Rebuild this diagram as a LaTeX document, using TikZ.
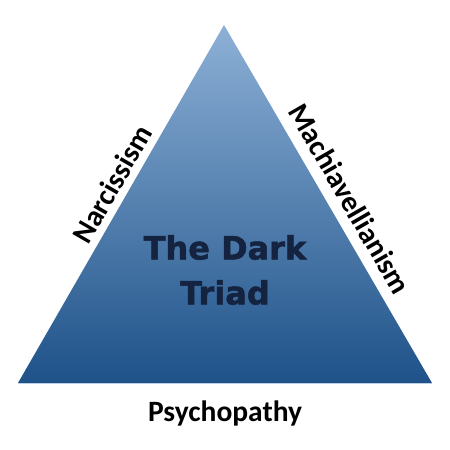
\documentclass[tikz,border=0pt]{standalone}
\usepackage{fontspec}
\setmainfont{Carlito}
\newfontfamily\titlefont[BoldFeatures={FakeBold=1.6}]{DejaVu Sans}
\definecolor{topblue}{HTML}{8DB0D6}
\definecolor{botblue}{HTML}{1E5289}
\definecolor{navy}{HTML}{14233F}
\begin{document}
\begin{tikzpicture}[x=1pt,y=1pt,
  sidelabel/.style={font=\fontsize{29.5}{32}\selectfont\bfseries, text=black, inner sep=0pt},
  titlelabel/.style={font=\titlefont\fontsize{32}{45}\selectfont\bfseries, text=navy, align=center, inner sep=0pt}]
\useasboundingbox (0,0) rectangle (450,450);
\coordinate (apex) at (224,425);
\coordinate (bl) at (18,67);
\coordinate (br) at (432,67);
\shade[top color=topblue, bottom color=botblue] (apex) -- (br) -- (bl) -- cycle;
\draw[topblue!60!white, line width=0.8pt] (bl) -- (br);
\node[titlelabel] (title) at (225,180) {The Dark\\Triad};
\node[sidelabel, rotate=60] (narc) at (112,266) {Narcissism};
\node[sidelabel, rotate=-60] (mach) at (350,251) {Machiavellianism};
\node[sidelabel] (psych) at (225,37) {Psychopathy};
\end{tikzpicture}
\end{document}
